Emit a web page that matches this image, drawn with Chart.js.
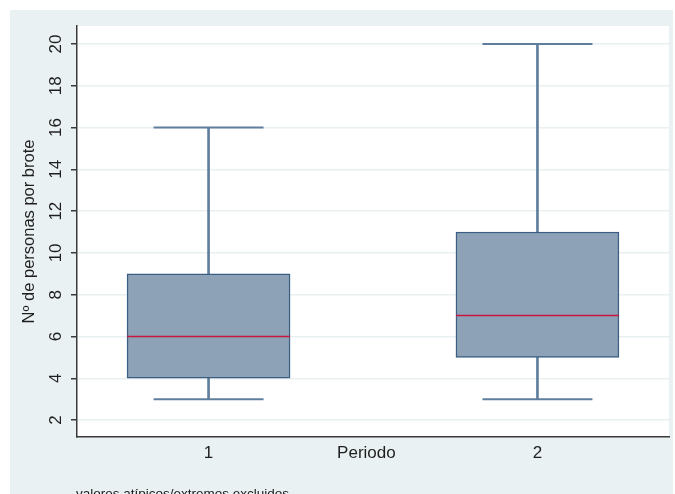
<!DOCTYPE html>
<html>
<head>
<meta charset="utf-8">
<script src="https://cdn.jsdelivr.net/npm/chart.js@4/dist/chart.umd.min.js"></script>
<style>
  html, body { margin: 0; padding: 0; background: #ffffff; }
  #wrap { position: absolute; left: 10px; top: 10px; width: 663px; height: 484px; background: #eaf1f3; overflow: hidden; }
  canvas { display: block; }
</style>
</head>
<body>
<div id="wrap"><canvas id="c" width="663" height="484"></canvas></div>
<script>
// ---- data ----
const categories = [1, 2];
const whiskerLow = [3, 3];
const q1 = [4, 5];
const median = [6, 7];
const q3 = [9, 11];
const whiskerHigh = [16, 20];
const yTickValues = [2, 4, 6, 8, 10, 12, 14, 16, 18, 20];
const xTickValues = [1, 1.48, 2];
const xTickLabels = ['1', 'Periodo', '2'];
const yTitle = 'Nº de personas por brote';
const noteText = 'valores atípicos/extremos excluidos';

const FONT = '"Liberation Sans", Arial, sans-serif';
const TEXT = '#1e1e1e';
const AXIS = '#3a3a3a';

const boxData = categories.map((c, i) => ({ x: c, y: [q1[i], q3[i]] }));
const whiskerData = categories.flatMap((c, i) => [
  { x: c, y: [whiskerLow[i], q1[i]] },
  { x: c, y: [q3[i], whiskerHigh[i]] }
]);
const capData = categories.flatMap((c, i) => [
  { x: c, y: whiskerLow[i] },
  { x: c, y: whiskerHigh[i] }
]);
const medianData = categories.map((c, i) => ({ x: c, y: median[i] }));

const deco = {
  id: 'deco',
  beforeDraw(chart) {
    const { ctx, chartArea: a } = chart;
    ctx.save();
    ctx.fillStyle = '#ffffff';
    ctx.fillRect(a.left, a.top, a.right - a.left, a.bottom - a.top);
    ctx.restore();
  },
  afterDraw(chart) {
    const { ctx } = chart;
    const y = chart.scales.y;
    ctx.save();
    ctx.fillStyle = TEXT;
    ctx.font = '17px ' + FONT;
    ctx.textAlign = 'center';
    ctx.textBaseline = 'middle';
    yTickValues.forEach(v => {
      const py = y.getPixelForValue(v);
      ctx.save();
      ctx.translate(46, py);
      ctx.rotate(-Math.PI / 2);
      ctx.fillText(String(v), 0, 0);
      ctx.restore();
    });
    ctx.font = '13.5px ' + FONT;
    ctx.textAlign = 'left';
    ctx.textBaseline = 'alphabetic';
    ctx.fillText(noteText, 66, 488);
    ctx.restore();
  }
};

new Chart(document.getElementById('c'), {
  type: 'bar',
  data: {
    datasets: [
      {
        type: 'bar', label: 'whiskers', data: whiskerData, grouped: false,
        backgroundColor: '#5f7e9d', borderWidth: 0, barThickness: 2, order: 4
      },
      {
        type: 'bar', label: 'box', data: boxData, grouped: false,
        backgroundColor: '#8da2b6', borderColor: '#3b5e84', borderWidth: 1.5,
        borderSkipped: false, barThickness: 163, order: 3
      },
      {
        type: 'scatter', label: 'median', data: medianData,
        pointStyle: 'line', pointRadius: 81.5, pointHoverRadius: 81.5,
        borderColor: '#c8173f', pointBorderColor: '#c8173f', borderWidth: 1.5, pointBorderWidth: 1.5,
        order: 2
      },
      {
        type: 'scatter', label: 'caps', data: capData,
        pointStyle: 'line', pointRadius: 55, pointHoverRadius: 55,
        borderColor: '#5f7e9d', pointBorderColor: '#5f7e9d', borderWidth: 2, pointBorderWidth: 2,
        order: 1
      }
    ]
  },
  options: {
    responsive: false,
    animation: false,
    events: [],
    layout: { autoPadding: false, padding: { top: 16, right: 4, left: 0, bottom: 0 } },
    plugins: { legend: { display: false }, tooltip: { enabled: false } },
    scales: {
      x: {
        type: 'linear', min: 0.6, max: 2.4, offset: false,
        grid: { display: false, drawTicks: false },
        border: { display: true, color: AXIS, width: 1.5 },
        afterBuildTicks: s => { s.ticks = xTickValues.map(v => ({ value: v })); },
        ticks: {
          padding: 6, color: TEXT, font: { family: FONT, size: 17 },
          autoSkip: false, maxRotation: 0,
          callback: (v) => xTickLabels[xTickValues.indexOf(v)]
        },
        afterFit: s => { s.height = 57; }
      },
      y: {
        type: 'linear', min: 1.19, max: 20.86,
        afterBuildTicks: s => { s.ticks = yTickValues.map(v => ({ value: v })); },
        grid: { color: '#e8f0f1', lineWidth: 1.5, drawTicks: true, tickLength: 6, tickColor: AXIS, tickWidth: 1.5 },
        border: { display: true, color: AXIS, width: 1.5 },
        ticks: { display: false },
        title: { display: true, text: yTitle, color: TEXT, font: { family: FONT, size: 16.5 }, padding: { top: 10, bottom: 0 } },
        afterFit: s => { s.width = 67; }
      }
    }
  },
  plugins: [deco]
});
</script>
</body>
</html>
